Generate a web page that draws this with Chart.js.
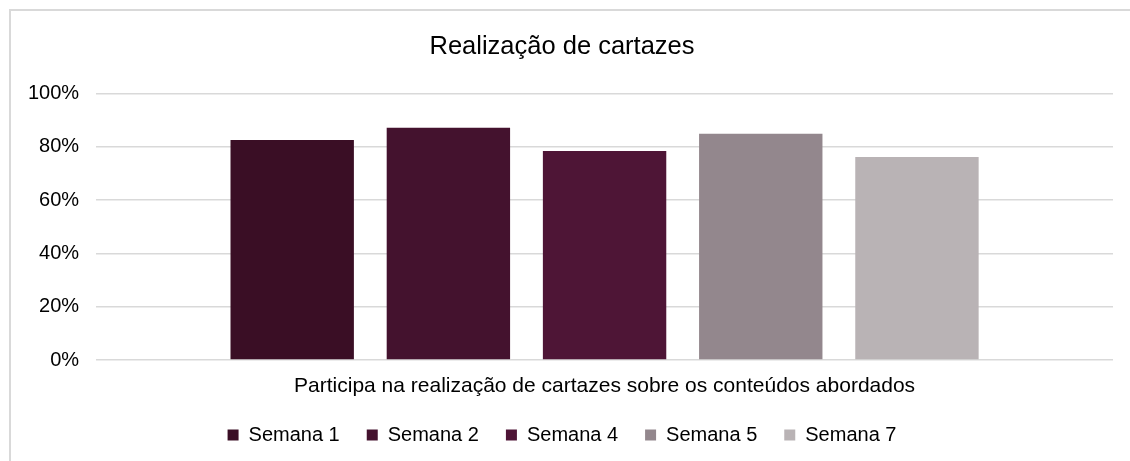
<!DOCTYPE html>
<html>
<head>
<meta charset="utf-8">
<script src="https://cdn.jsdelivr.net/npm/chart.js@4"></script>
<style>
  body { margin: 0; background: #fff; }
  #frame { position: absolute; left: 9px; top: 9px; width: 1140px; height: 480px; border: 2px solid #d9d9d9; }
  #wrap { position: absolute; left: 0; top: 0; width: 1130px; height: 461px; }
</style>
</head>
<body>
<div id="frame"></div>
<div id="wrap"><canvas id="myChart" width="1130" height="461"></canvas></div>
<script>
'use strict';
let chartTitle = 'Realização de cartazes';
let categories = ['Participa na realização de cartazes sobre os conteúdos abordados'];
let seriesNames = ['Semana 1', 'Semana 2', 'Semana 4', 'Semana 5', 'Semana 7'];
let seriesValues = [82.6, 87.2, 78.5, 84.9, 76.2];
let seriesColors = ['#3a0e25', '#44122e', '#4e1536', '#93878d', '#b9b3b5'];
let tickValues = [0, 20, 40, 60, 80, 100];

let datasets = [];
for (let i = 0; i < seriesNames.length; i++) {
    datasets.push({
        label: seriesNames[i],
        data: [seriesValues[i]],
        backgroundColor: seriesColors[i],
        categoryPercentage: 0.768,
        barPercentage: 0.79
    });
}

Chart.defaults.font.family = "'Liberation Sans', Arial, sans-serif";
Chart.defaults.color = '#000';

let ctx = document.getElementById('myChart').getContext('2d');
let myChart = new Chart(ctx, {
    type: 'bar',
    data: {
        labels: categories,
        datasets: datasets
    },
    options: {
        responsive: false,
        animation: false,
        layout: { padding: { left: 11, right: 17, top: 0, bottom: 6 } },
        plugins: {
            title: {
                display: true,
                text: chartTitle,
                font: { size: 25.5, weight: 'normal' },
                padding: { top: 32, bottom: 31 }
            },
            legend: {
                position: 'bottom',
                labels: { boxWidth: 11, boxHeight: 11, font: { size: 20, lineHeight: 1 }, padding: 27 }
            },
            tooltip: { enabled: false }
        },
        scales: {
            x: {
                grid: { display: false, drawTicks: false },
                border: { display: false },
                ticks: { font: { size: 21, lineHeight: 1 }, padding: 16 },
                afterFit: function(axis) { axis.height = 38; }
            },
            y: {
                min: 0,
                max: 100,
                afterBuildTicks: function(axis) {
                    axis.ticks = tickValues.map(function(v) { return { value: v }; });
                },
                grid: { color: '#d9d9d9', lineWidth: 1.5, drawTicks: false },
                border: { display: false },
                ticks: {
                    font: { size: 20 },
                    padding: 17,
                    callback: function(v) { return v + '%'; }
                }
            }
        }
    }
});
</script>
</body>
</html>
